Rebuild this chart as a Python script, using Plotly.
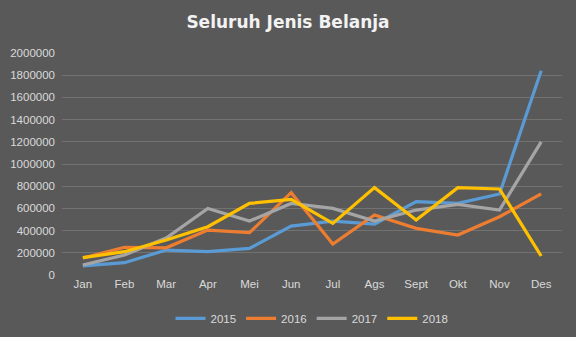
import plotly.graph_objects as go

months = ["Jan", "Feb", "Mar", "Apr", "Mei", "Jun", "Jul", "Ags", "Sept", "Okt", "Nov", "Des"]
y2015 = [82000, 111000, 225000, 210000, 240000, 441000, 486000, 459000, 661000, 645000, 730000, 1840000]
y2016 = [153000, 250000, 245000, 405000, 381000, 742000, 279000, 540000, 420000, 360000, 525000, 730000]
y2017 = [90000, 180000, 333000, 600000, 486000, 645000, 600000, 486000, 585000, 636000, 585000, 1200000]
y2018 = [156000, 210000, 315000, 435000, 645000, 682000, 465000, 787000, 495000, 787000, 775000, 171000]

series = [
    ("2015", y2015, "#5B9BD5"),
    ("2016", y2016, "#ED7D31"),
    ("2017", y2017, "#A5A5A5"),
    ("2018", y2018, "#FFC000"),
]

label_font = "Liberation Sans Narrow, Liberation Sans, sans-serif"

fig = go.Figure()
for name, vals, color in series:
    fig.add_trace(go.Scatter(
        x=months, y=vals, name=name, mode="lines",
        line=dict(color=color, width=3.2),
    ))

fig.update_layout(
    width=576, height=337,
    paper_bgcolor="#595959", plot_bgcolor="#595959",
    margin=dict(l=62, r=14, t=53, b=62, autoexpand=False),
    font=dict(family=label_font, size=11.5, color="#d9d9d9"),
    title=dict(
        text="<b>Seluruh Jenis Belanja</b>",
        x=0.5, xanchor="center", y=0.935, yanchor="middle",
        font=dict(size=17, color="#f2f2f2", family="DejaVu Sans, sans-serif"),
    ),
    showlegend=True,
    legend=dict(
        orientation="h", x=0.5, xanchor="center", y=-0.195, yanchor="middle",
        font=dict(size=11.5, color="#d9d9d9", family=label_font),
        bgcolor="rgba(0,0,0,0)",
        itemwidth=30, tracegroupgap=0,
    ),
    xaxis=dict(
        range=[-0.5, 11.5], automargin=False,
        showgrid=False, zeroline=False, showline=False, ticks="",
        tickfont=dict(size=11.5, color="#d9d9d9", family=label_font),
    ),
    yaxis=dict(
        range=[0, 2000000], dtick=200000, tickformat="d", automargin=False,
        showgrid=True, gridcolor="#727272", gridwidth=1,
        zeroline=False, showline=False, ticks="", ticklabelstandoff=6,
        tickfont=dict(size=11.5, color="#d9d9d9", family=label_font),
    ),
)

fig.write_html("out.html")
